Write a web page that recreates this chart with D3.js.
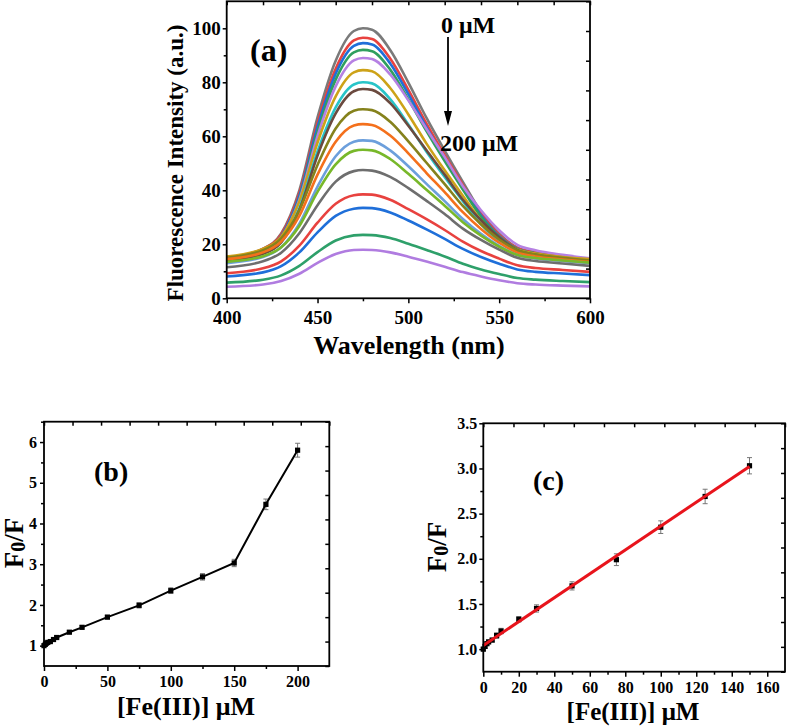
<!DOCTYPE html>
<html>
<head>
<meta charset="utf-8">
<script src="https://cdn.jsdelivr.net/npm/d3@7"></script>
<style>
  html, body { margin: 0; padding: 0; background: #fff; }
  svg { display: block; }
  svg text { font-family: "Liberation Serif", "Times New Roman", serif; font-weight: bold; fill: #000; }
</style>
</head>
<body>
<div id="chart"></div>
<script>
// Panel (a): emission spectra, 0 uM (top) to 200 uM (bottom)
const wavelengths = [400, 420, 430, 440, 450, 460, 470, 475, 480, 490, 500, 510, 520, 530, 540, 550, 560, 570, 585, 600];
const spectra = [
  [15, 18.4, 24.0, 40.0, 67.0, 88.0, 99.0, 100, 99.5, 92.0, 79.9, 66.8, 54.7, 43.1, 32.0, 23.9, 18.8, 17.1, 15.5, 14.5],
  [15, 18.3, 23.6, 39.0, 64.9, 85.0, 95.5, 96.5, 96.0, 88.8, 77.2, 64.7, 53.0, 42.0, 31.3, 23.5, 18.6, 17.0, 15.5, 14.5],
  [14.5, 17.7, 23.0, 38.0, 63.5, 83.2, 93.5, 94.5, 94.0, 87.0, 75.6, 63.3, 51.9, 41.1, 30.7, 23.0, 18.2, 16.6, 15.2, 14.2],
  [14, 17.1, 22.3, 36.9, 61.7, 81.0, 91.1, 92, 91.5, 84.7, 73.7, 61.9, 50.8, 40.3, 30.2, 22.8, 18.2, 16.6, 15.2, 14.3],
  [14.5, 17.5, 22.4, 36.4, 60.1, 78.5, 88.1, 89, 88.6, 82.9, 73.3, 62.7, 52.3, 41.5, 32.6, 25.2, 19.8, 17.8, 16.1, 14.8],
  [15.5, 18.3, 22.8, 35.8, 57.7, 74.8, 83.7, 84.5, 84.1, 77.9, 68.1, 57.3, 47.4, 38.0, 28.9, 22.2, 18.0, 16.6, 15.3, 14.5],
  [14, 16.6, 21.0, 33.4, 54.4, 70.7, 79.2, 80, 79.6, 73.8, 64.4, 54.3, 44.9, 36.0, 27.4, 21.1, 17.1, 15.8, 14.6, 13.8],
  [14, 16.5, 20.7, 32.7, 52.9, 68.5, 76.7, 77.5, 77.2, 72.3, 63.9, 54.8, 45.8, 36.5, 28.9, 22.5, 17.8, 16.1, 14.7, 13.5],
  [15, 17.8, 22.2, 32.6, 49.4, 62.9, 69.5, 70, 69.7, 65.4, 58.1, 50.2, 42.3, 34.2, 27.4, 21.8, 17.8, 16.2, 15.0, 14],
  [14.5, 17.0, 21.0, 30.5, 45.8, 58.0, 64.0, 64.5, 64.2, 60.3, 53.7, 46.4, 39.3, 31.9, 25.7, 20.6, 16.9, 15.5, 14.4, 13.5],
  [13, 15.3, 18.9, 27.6, 41.4, 52.6, 58.0, 58.5, 58.3, 54.8, 48.9, 42.4, 36.0, 29.4, 23.9, 19.4, 16.0, 14.8, 13.8, 13],
  [13.5, 15.6, 18.9, 26.8, 39.4, 49.6, 54.6, 55, 54.8, 51.6, 46.1, 40.2, 34.3, 28.2, 23.2, 19.1, 16.0, 14.9, 14.0, 13.2],
  [11.5, 13.7, 16.9, 24.1, 34.5, 43.2, 47.1, 47.5, 47.3, 45.0, 40.8, 36.1, 31.2, 25.8, 21.6, 18.0, 15.0, 13.8, 12.9, 12],
  [9.3, 11.1, 13.7, 19.5, 28.0, 35.0, 38.2, 38.5, 38.4, 36.5, 33.0, 29.3, 25.3, 21.0, 17.5, 14.7, 12.2, 11.2, 10.5, 9.8],
  [8.1, 9.6, 11.9, 17.0, 24.4, 30.5, 33.2, 33.5, 33.4, 31.8, 28.8, 25.5, 22.0, 18.3, 15.3, 12.8, 10.7, 9.8, 9.2, 8.6],
  [5.8, 6.9, 8.5, 12.0, 17.1, 21.4, 23.3, 23.5, 23.4, 22.3, 20.2, 17.9, 15.5, 12.8, 10.7, 9.0, 7.5, 6.9, 6.4, 6.0],
  [4.3, 5.1, 6.4, 9.1, 13.1, 16.4, 17.9, 18, 17.9, 17.0, 15.4, 13.6, 11.7, 9.7, 8.1, 6.7, 5.6, 5.1, 4.7, 4.4],
];
const spectraColors = [
  "#7a7a7a", "#e8423f", "#1f6fd9", "#2f9f5f", "#b681e3", "#cda218", "#28c4c8", "#6b4a3f",
  "#85821c", "#f4701c", "#6c9fdc", "#78b82a", "#6e6e6e", "#e8423f", "#1f6fd9", "#2ea06a", "#b07ce0",
];
const waveTicks = [400, 450, 500, 550, 600];
const intensityTicks = [0, 20, 40, 60, 80, 100];

// Panel (b): Stern-Volmer plot, full range
const feConc = [0, 1, 2, 3, 5, 7.5, 10, 20, 30, 50, 75, 100, 125, 150, 175, 200];
const f0OverF = [1.0, 1.03, 1.06, 1.08, 1.1, 1.15, 1.2, 1.33, 1.45, 1.7, 1.99, 2.35, 2.69, 3.03, 4.47, 5.8];
const f0OverFErr = [0.02, 0.02, 0.02, 0.02, 0.02, 0.03, 0.03, 0.03, 0.04, 0.045, 0.065, 0.07, 0.08, 0.09, 0.13, 0.17];
const concTicksB = [0, 50, 100, 150, 200];
const ratioTicksB = [1, 2, 3, 4, 5, 6];

// Panel (c): linear range with fit
const linearCount = 14; // points up to 150 uM
const fitIntercept = 1.04;
const fitSlope = 0.01322;
const fitRange = [0, 150];
const concTicksC = [0, 20, 40, 60, 80, 100, 120, 140, 160];
const ratioTicksC = [1.0, 1.5, 2.0, 2.5, 3.0, 3.5];

(function () {
  const width = 787;
  const height = 727;
  const serif = '"Liberation Serif", "Times New Roman", serif';
  const svg = d3.select("#chart").append("svg")
    .attr("width", width).attr("height", height);

  // Origin-style box: outward major/minor ticks on left/bottom,
  // inward ticks on top/right dividing the axis into 10 parts
  function drawFrame(x, y, o) {
    const [x0, x1] = x.range();
    const [y0, y1] = y.range();
    const xd = x.domain(), yd = y.domain();
    const g = svg.append("g");
    const style = (sel) => {
      sel.select(".domain").remove();
      sel.selectAll("line").attr("stroke", "#000").attr("stroke-width", 1.5);
      sel.attr("font-family", null).attr("font-size", null);
      sel.selectAll("text")
        .style("font-family", serif)
        .style("font-weight", "bold")
        .style("font-size", o.fontSize + "px");
    };
    g.append("g").attr("transform", `translate(0,${y0})`)
      .call(d3.axisBottom(x).tickValues(o.xMinor).tickSize(3).tickFormat(""))
      .call(style);
    g.append("g").attr("transform", `translate(0,${y0})`)
      .call(d3.axisBottom(x).tickValues(o.xTicks).tickSize(5).tickPadding(o.xPad).tickFormat(o.xFormat || d3.format("d")))
      .call(style);
    g.append("g").attr("transform", `translate(${x0},0)`)
      .call(d3.axisLeft(y).tickValues(o.yMinor).tickSize(3).tickFormat(""))
      .call(style);
    g.append("g").attr("transform", `translate(${x0},0)`)
      .call(d3.axisLeft(y).tickValues(o.yTicks).tickSize(4).tickPadding(o.yPad).tickFormat(o.yFormat || d3.format("d")))
      .call(style);
    g.append("g").attr("transform", `translate(0,${y1})`)
      .call(d3.axisTop(x).tickValues(d3.range(11).map((i) => xd[0] + (i * (xd[1] - xd[0])) / 10)).tickSize(-4).tickFormat(""))
      .call(style);
    g.append("g").attr("transform", `translate(${x1},0)`)
      .call(d3.axisRight(y).tickValues(d3.range(11).map((i) => yd[0] + (i * (yd[1] - yd[0])) / 10)).tickSize(-4).tickFormat(""))
      .call(style);
    g.append("rect")
      .attr("x", x0).attr("y", y1)
      .attr("width", x1 - x0).attr("height", y0 - y1)
      .attr("fill", "none").attr("stroke", "#000").attr("stroke-width", 1.8);
  }

  function label(text, x, y, size, anchor) {
    return svg.append("text")
      .attr("x", x).attr("y", y)
      .style("font-size", size + "px")
      .attr("text-anchor", anchor || "middle")
      .attr("dominant-baseline", "central")
      .text(text);
  }

  function ratioLabel(x, y) {
    const t = svg.append("text")
      .attr("transform", `translate(${x},${y}) rotate(-90)`)
      .style("font-size", "27px")
      .attr("text-anchor", "middle")
      .attr("dominant-baseline", "central");
    t.append("tspan").text("F");
    t.append("tspan").style("font-size", "20px").attr("dy", 4).text("0");
    t.append("tspan").attr("dy", -4).text("/F");
  }

  // ---------- (a) spectra ----------
  const xA = d3.scaleLinear([400, 600], [226.7, 590]);
  const yA = d3.scaleLinear([0, 110], [298.3, 1.3]);
  const lineA = d3.line()
    .x((d, i) => xA(wavelengths[i]))
    .y((d) => yA(d))
    .curve(d3.curveMonotoneX);

  svg.append("g")
    .selectAll("path")
    .data(spectra)
    .join("path")
    .attr("d", lineA)
    .attr("fill", "none")
    .attr("stroke", (d, i) => spectraColors[i])
    .attr("stroke-width", 2.6);

  drawFrame(xA, yA, {
    xTicks: waveTicks,
    xMinor: d3.range(425, 600, 50),
    yTicks: intensityTicks,
    yMinor: d3.range(10, 110, 20),
    fontSize: 19,
    xPad: 7,
    yPad: 2,
  });

  label("(a)", 250, 50, 32, "start");
  label("0 μM", 441, 25, 24, "start");
  label("200 μM", 440, 143, 24, "start");
  svg.append("line")
    .attr("x1", 448).attr("y1", 37).attr("x2", 448).attr("y2", 114)
    .attr("stroke", "#000").attr("stroke-width", 1.8);
  svg.append("path")
    .attr("d", "M444,111L452,111L448,126Z")
    .attr("fill", "#000");

  svg.append("text")
    .attr("transform", "translate(175,163) rotate(-90)")
    .style("font-size", "23px")
    .attr("text-anchor", "middle")
    .attr("dominant-baseline", "central")
    .text("Fluorescence Intensity (a.u.)");
  label("Wavelength (nm)", 409, 345, 26);

  // ---------- scatter helper ----------
  function drawPoints(x, y, xs, ys, errs) {
    const g = svg.append("g");
    const pts = xs.map((c, i) => ({ c, v: ys[i], e: errs[i] }));
    const eb = g.selectAll("g.err").data(pts).join("g").attr("class", "err")
      .attr("stroke", "#777").attr("stroke-width", 1);
    eb.append("line")
      .attr("x1", (d) => x(d.c)).attr("x2", (d) => x(d.c))
      .attr("y1", (d) => y(d.v - d.e)).attr("y2", (d) => y(d.v + d.e));
    eb.append("line")
      .attr("x1", (d) => x(d.c) - 2.5).attr("x2", (d) => x(d.c) + 2.5)
      .attr("y1", (d) => y(d.v + d.e)).attr("y2", (d) => y(d.v + d.e));
    eb.append("line")
      .attr("x1", (d) => x(d.c) - 2.5).attr("x2", (d) => x(d.c) + 2.5)
      .attr("y1", (d) => y(d.v - d.e)).attr("y2", (d) => y(d.v - d.e));
    return { g, pts };
  }

  // ---------- (b) ----------
  const xB = d3.scaleLinear([0, 225], [44, 329.3]);
  const yB = d3.scaleLinear([0.5, 6.5], [666, 421.7]);
  const ptsB = drawPoints(xB, yB, feConc, f0OverF, f0OverFErr);
  svg.append("path")
    .datum(ptsB.pts)
    .attr("d", d3.line().x((d) => xB(d.c)).y((d) => yB(d.v)))
    .attr("fill", "none").attr("stroke", "#000").attr("stroke-width", 2);
  svg.append("g").selectAll("rect").data(ptsB.pts).join("rect")
    .attr("x", (d) => xB(d.c) - 2.6).attr("y", (d) => yB(d.v) - 2.6)
    .attr("width", 5.2).attr("height", 5.2).attr("fill", "#000");

  drawFrame(xB, yB, {
    xTicks: concTicksB,
    xMinor: d3.range(25, 225, 50),
    yTicks: ratioTicksB,
    yMinor: d3.range(1.5, 6.6, 1),
    fontSize: 16,
    xPad: 5,
    yPad: 3,
  });
  label("(b)", 94, 471, 28, "start");
  ratioLabel(14, 543);
  label("[Fe(III)] μM", 186, 706, 26);

  // ---------- (c) ----------
  const xC = d3.scaleLinear([0, 170], [483.3, 785]);
  const yC = d3.scaleLinear([0.75, 3.5], [671.7, 423.3]);
  const ptsC = drawPoints(xC, yC, feConc.slice(0, linearCount), f0OverF.slice(0, linearCount), f0OverFErr.slice(0, linearCount));
  svg.append("g").selectAll("rect").data(ptsC.pts).join("rect")
    .attr("x", (d) => xC(d.c) - 2.6).attr("y", (d) => yC(d.v) - 2.6)
    .attr("width", 5.2).attr("height", 5.2).attr("fill", "#000");
  svg.append("path")
    .datum(fitRange)
    .attr("d", d3.line().x((d) => xC(d)).y((d) => yC(fitIntercept + fitSlope * d)))
    .attr("fill", "none").attr("stroke", "#e8141c").attr("stroke-width", 3);

  drawFrame(xC, yC, {
    xTicks: concTicksC,
    xMinor: d3.range(10, 170, 20),
    yTicks: ratioTicksC,
    yMinor: d3.range(1.25, 3.5, 0.5),
    fontSize: 16,
    xFormat: d3.format("d"),
    yFormat: d3.format(".1f"),
    xPad: 5,
    yPad: 2,
  });
  label("(c)", 533, 480, 28, "start");
  ratioLabel(437, 547);
  label("[Fe(III)] μM", 633, 711, 25);
})();
</script>
</body>
</html>
